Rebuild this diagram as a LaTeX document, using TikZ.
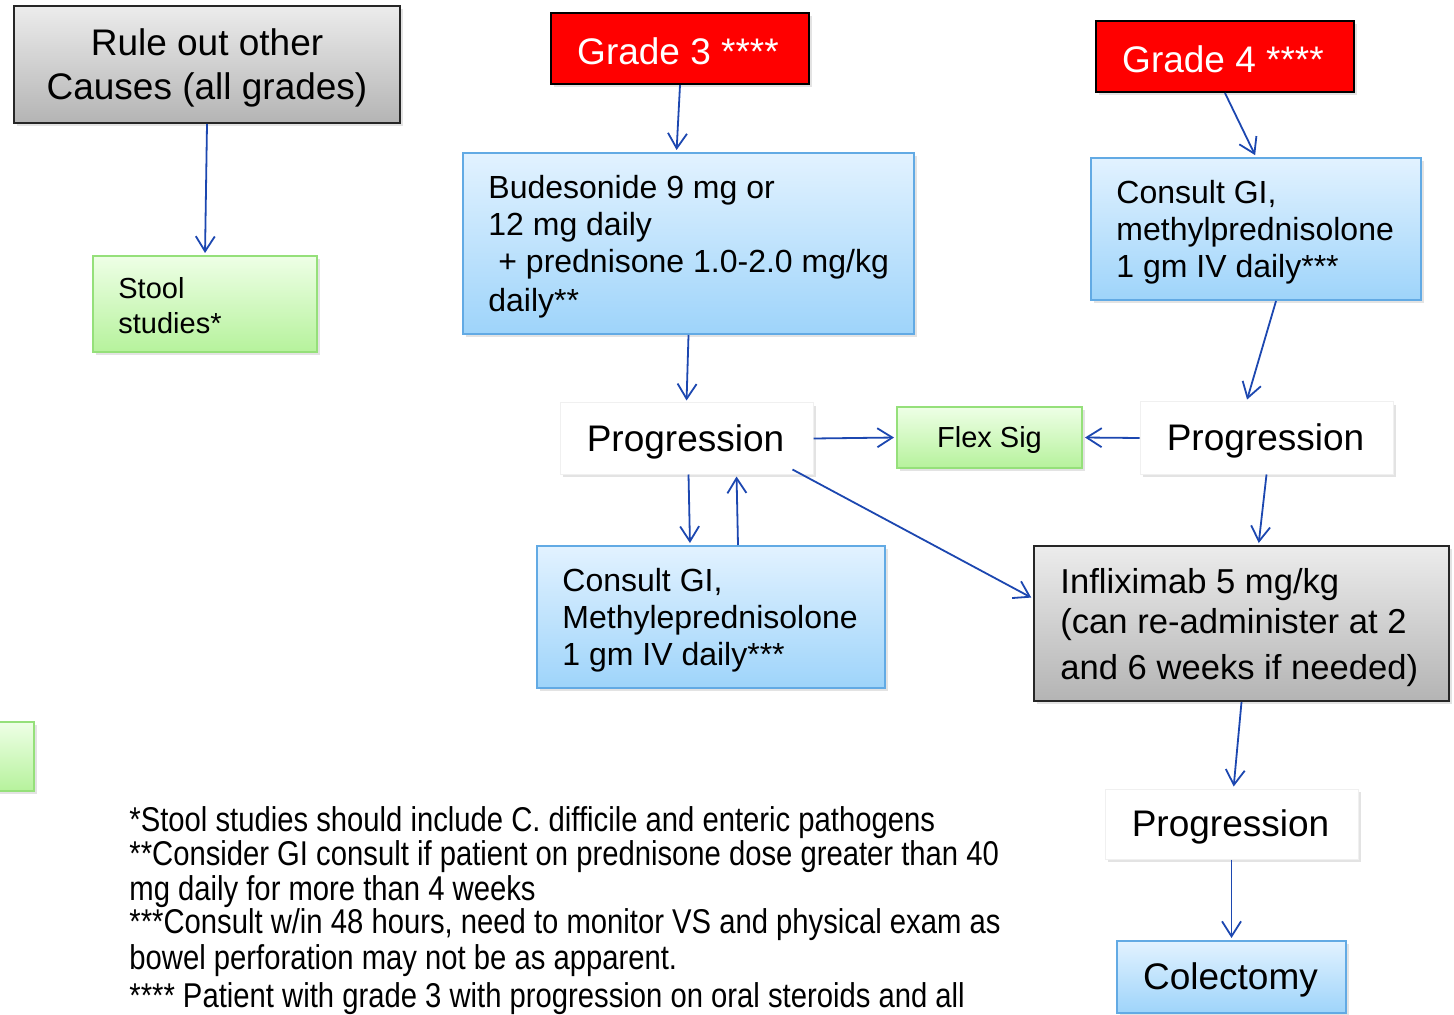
\documentclass[tikz,border=0pt]{standalone}
\usepackage{fontspec}
\setmainfont{Liberation Sans}
\newfontfamily\narrowfont[FakeStretch=0.85]{Liberation Sans}
\usetikzlibrary{shadows,arrows.meta,calc}
\definecolor{bluetop}{HTML}{E2F2FF}
\definecolor{bluebot}{HTML}{9ED4FA}
\definecolor{blueline}{HTML}{62AAE4}
\definecolor{greentop}{HTML}{EEFFE6}
\definecolor{greenbot}{HTML}{B6F29C}
\definecolor{greenline}{HTML}{95E07A}
\definecolor{graytop}{HTML}{ECECEC}
\definecolor{graybot}{HTML}{B4B4B4}
\definecolor{arrowblue}{HTML}{1C47B0}
\tikzset{
  shad/.style={drop shadow={shadow xshift=1.3pt,shadow yshift=-1.6pt,opacity=0.22}},
  bluebox/.style={shad,rectangle,inner sep=0pt,top color=bluetop,bottom color=bluebot,draw=blueline,line width=1pt},
  greenbox/.style={shad,rectangle,inner sep=0pt,top color=greentop,bottom color=greenbot,draw=greenline,line width=1pt},
  graybox/.style={shad,rectangle,inner sep=0pt,top color=graytop,bottom color=graybot,draw=black!85,line width=1pt},
  redbox/.style={shad,rectangle,inner sep=0pt,fill=red,draw=black,line width=1.1pt},
  whitebox/.style={shad,rectangle,inner sep=0pt,fill=white,draw=black!6,line width=0.5pt},
  txt/.style={inner sep=0pt,align=left,anchor=west},
  ctr/.style={inner sep=0pt,align=center,anchor=center},
  big/.style={font=\fontsize{18.5}{22}\selectfont},
  mid/.style={font=\fontsize{16}{18.5}\selectfont},
  conn/.style={draw=arrowblue,line width=0.9pt,-{Straight Barb[length=7.5pt,width=9.5pt,line width=0.9pt]},shorten >=1pt},
  foot/.style={inner sep=0pt,anchor=base west,font=\narrowfont\fontsize{17.2}{17.5}\selectfont}
}
\begin{document}
\begin{tikzpicture}[x=0.5pt,y=-0.5pt]
\useasboundingbox (0,0) rectangle (1454,1015);

% top row
\node[graybox,minimum width=193pt,minimum height=58.5pt] (rule) at (207,64.5) {};
\node[ctr,big] (ruleT) at ($(rule.center)+(0,3)$) {Rule out other\\Causes (all grades)};
\node[redbox,minimum width=129pt,minimum height=35.5pt] (g3) at (680,48.5) {};
\node[ctr,big,text=white] (g3T) at ($(g3.center)+(-2,3)$) {Grade 3 ****};
\node[redbox,minimum width=129pt,minimum height=35.5pt] (g4) at (1225,56.5) {};
\node[ctr,big,text=white] (g4T) at ($(g4.center)+(-2,3)$) {Grade 4 ****};

% stool
\node[greenbox,minimum width=112pt,minimum height=48pt] (stool) at (205,304) {};
\node[txt,font=\fontsize{14.5}{17.5}\selectfont] (stoolT) at ($(stool.west)+(26,2)$) {Stool\\studies*};

% budesonide
\node[bluebox,minimum width=225.5pt,minimum height=90.5pt] (bud) at (688.5,243.5) {};
\node[txt,mid] (budT) at ($(bud.west)+(26,3)$) {Budesonide 9 mg or\\12 mg daily\\\hspace*{5pt}+ prednisone 1.0-2.0 mg/kg\\[1pt]daily**};

% consult GI grade 4
\node[bluebox,minimum width=165pt,minimum height=71pt] (cgi4) at (1256,229) {};
\node[txt,mid] (cgi4T) at ($(cgi4.west)+(26,3)$) {Consult GI,\\methylprednisolone\\1 gm IV daily***};

% progression row
\node[whitebox,minimum width=126.5pt,minimum height=35.5pt] (prog1) at (686.5,438.5) {};
\node[ctr,big] (prog1T) at ($(prog1.center)+(-1,3)$) {Progression};
\node[greenbox,minimum width=92.5pt,minimum height=30.5pt] (flex) at (989.5,437.5) {};
\node[ctr,font=\fontsize{14.5}{17}\selectfont] (flexT) at ($(flex.center)+(0,3)$) {Flex Sig};
\node[whitebox,minimum width=126.5pt,minimum height=36pt] (prog2) at (1266.5,438) {};
\node[ctr,big] (prog2T) at ($(prog2.center)+(-1,3)$) {Progression};

% consult GI grade 3
\node[bluebox,minimum width=174pt,minimum height=71pt] (cgi3) at (711,617) {};
\node[txt,mid] (cgi3T) at ($(cgi3.west)+(26,3)$) {Consult GI,\\Methyleprednisolone\\1 gm IV daily***};

% infliximab
\node[graybox,minimum width=207.5pt,minimum height=77.5pt] (infl) at (1241.5,623.5) {};
\node[txt,font=\fontsize{17.3}{20}\selectfont] (inflT) at ($(infl.west)+(27,4)$) {Infliximab 5 mg/kg\\(can re-administer at 2\\[3pt]and 6 weeks if needed)};

% bottom right
\node[whitebox,minimum width=126.5pt,minimum height=35pt] (prog3) at (1231.5,824) {};
\node[ctr,big] (prog3T) at ($(prog3.center)+(-1,3)$) {Progression};
\node[bluebox,minimum width=114.5pt,minimum height=36pt] (colect) at (1231.5,977) {};
\node[ctr,big] (colectT) at ($(colect.center)+(-1,3)$) {Colectomy};

% partial green box at left edge
\node[greenbox,minimum width=67pt,minimum height=34.5pt] (edge) at (-33,756.5) {};

% footnotes
\node[foot] (f1) at (129,831) {*Stool studies should include C. difficile and enteric pathogens};
\node[foot] (f2) at (129,865) {**Consider GI consult if patient on prednisone dose greater than 40};
\node[foot] (f3) at (129,900) {mg daily for more than 4 weeks};
\node[foot] (f4) at (129,933) {***Consult w/in 48 hours, need to monitor VS and physical exam as};
\node[foot] (f5) at (129,969) {bowel perforation may not be as apparent.};
\node[foot] (f6) at (129,1007) {**** Patient with grade 3 with progression on oral steroids and all};

% connectors
\draw[conn] (rule.south) -- (stool.north);
\draw[conn] (g3.south) -- ($(bud.north)+(-12,0)$);
\draw[conn] (g4.south) -- (cgi4.north);
\draw[conn] (bud.south) -- (prog1.north);
\draw[conn] ($(cgi4.south)+(20,0)$) -- ($(prog2.north)+(-20,0)$);
\draw[conn] (prog1.east) -- (flex.west);
\draw[conn] (prog2.west) -- (flex.east);
\draw[conn] ($(prog1.south)+(2,0)$) -- ($(cgi3.north)+(-21,0)$);
\draw[conn] ($(cgi3.north)+(27,0)$) -- ($(prog1.south)+(50,0)$);
\draw[conn] ($(prog1.south east)+(-21,-5)$) -- ($(infl.west)+(0,-25)$);
\draw[conn] (prog2.south) -- ($(infl.north)+(17,0)$);
\draw[conn] (infl.south) -- ($(prog3.north)+(2,0)$);
\draw[conn] (prog3.south) -- (colect.north);
\end{tikzpicture}
\end{document}
